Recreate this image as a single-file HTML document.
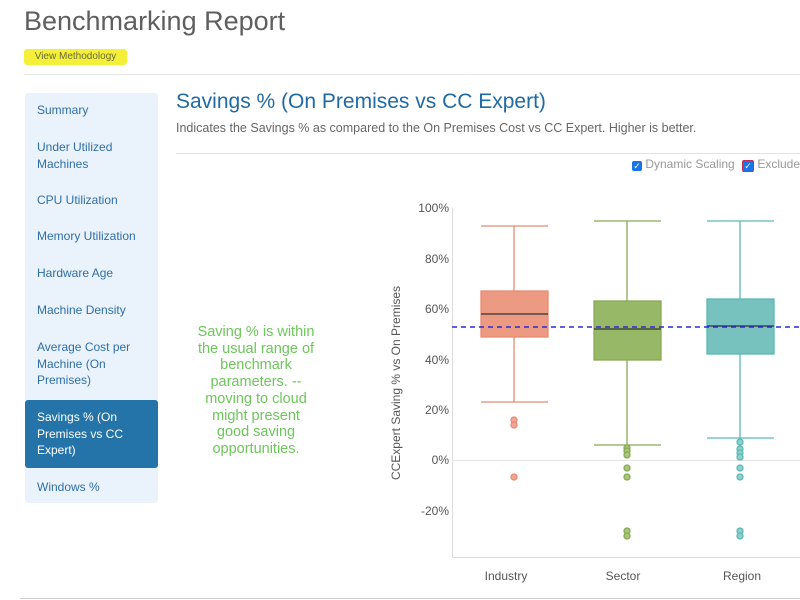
<!DOCTYPE html>
<html><head><style>
body{margin:0;width:800px;height:600px;overflow:hidden;background:#fff;font-family:"Liberation Sans",sans-serif;position:relative}
.a{position:absolute;white-space:nowrap}
.nav{position:absolute;left:25px;top:93px;width:133px;height:410px;background:#eaf3fc;border-radius:3px}
.it{position:absolute;left:12px;color:#2f6ea5;font-size:12px;line-height:16.7px}
</style></head><body>
<div class="a" style="left:24px;top:6px;font-size:27px;color:#5f5f5f">Benchmarking Report</div>
<div class="a" style="left:24px;top:49px;width:103px;height:16px;background:#f4f039;border-radius:3px;font-size:10px;color:#6a6a3a;line-height:16px;text-align:center">View Methodology</div>
<div class="a" style="left:24px;top:74px;width:776px;height:1px;background:#e6e6e6"></div>
<div class="nav">
<div class="it" style="top:9px">Summary</div>
<div class="it" style="top:46px">Under Utilized<br>Machines</div>
<div class="it" style="top:99px">CPU Utilization</div>
<div class="it" style="top:135px">Memory Utilization</div>
<div class="it" style="top:172px">Hardware Age</div>
<div class="it" style="top:209px">Machine Density</div>
<div class="it" style="top:246px">Average Cost per<br>Machine (On<br>Premises)</div>
<div style="position:absolute;left:0;top:307px;width:133px;height:68px;background:#2474aa;border-radius:3px"></div>
<div class="it" style="top:316px;color:#fff">Savings % (On<br>Premises vs CC<br>Expert)</div>
<div class="it" style="top:386px">Windows %</div>
</div>
<div class="a" style="left:176px;top:90px;font-size:21px;color:#1f6aa5">Savings % (On Premises vs CC Expert)</div>
<div class="a" style="left:176px;top:121px;font-size:12.5px;color:#666">Indicates the Savings % as compared to the On Premises Cost vs CC Expert. Higher is better.</div>
<div class="a" style="left:176px;top:153px;width:624px;height:1px;background:#e3e3e3"></div>
<div class="a" style="left:632px;top:157px;font-size:12px;color:#999"><span style="display:inline-block;width:10px;height:10px;background:#1a73e8;border-radius:2px;vertical-align:-1px;color:#fff;font-size:9px;line-height:10px;text-align:center">✓</span> Dynamic Scaling</div>
<div class="a" style="left:742px;top:157px;font-size:12px;color:#999"><span style="display:inline-block;width:10px;height:10px;background:#1a73e8;border:1px solid #c03050;border-radius:2px;vertical-align:-1px;color:#fff;font-size:9px;line-height:10px;text-align:center">✓</span> Exclude</div>
<div class="a" style="left:166px;top:324px;width:180px;text-align:center;font-size:14.5px;line-height:16.7px;color:#6cc65a">Saving % is within<br>the usual range of<br>benchmark<br>parameters. --<br>moving to cloud<br>might present<br>good saving<br>opportunities.</div>
<svg class="a" style="left:0;top:0" width="800" height="600" font-family="Liberation Sans,sans-serif">
<g font-size="12" fill="#555" text-anchor="end">
<text x="449" y="212">100%</text><text x="449" y="263">80%</text><text x="449" y="313">60%</text><text x="449" y="364">40%</text><text x="449" y="414">20%</text><text x="449" y="464">0%</text><text x="449" y="515">-20%</text>
</g>
<text transform="translate(400,383) rotate(-90)" font-size="12" fill="#555" text-anchor="middle">CCExpert Saving % vs On Premises</text>
<line x1="452.5" y1="208" x2="452.5" y2="557" stroke="#ddd"/>
<line x1="452" y1="557.5" x2="800" y2="557.5" stroke="#ddd"/>
<line x1="452" y1="460.5" x2="800" y2="460.5" stroke="#e6e6e6"/>
<g font-size="12" fill="#555" text-anchor="middle"><text x="506" y="580">Industry</text><text x="623" y="580">Sector</text><text x="742" y="580">Region</text></g>
<g stroke="#ea8a74" fill="none" stroke-width="1.3">
<line x1="514" y1="226" x2="514" y2="402"/><line x1="481" y1="226" x2="548" y2="226"/><line x1="481" y1="402" x2="548" y2="402"/>
<rect x="481" y="291" width="67" height="46" fill="#ec9a82"/>
<circle cx="514" cy="420" r="3" fill="#f0a896"/><circle cx="514" cy="425" r="3" fill="#f0a896"/><circle cx="514" cy="477" r="3" fill="#f0a896"/>
</g>
<line x1="481" y1="314" x2="548" y2="314" stroke="#333" stroke-width="1.3"/>
<g stroke="#88aa55" fill="none" stroke-width="1.3">
<line x1="627" y1="221" x2="627" y2="445"/><line x1="594" y1="221" x2="661" y2="221"/><line x1="594" y1="445" x2="661" y2="445"/>
<rect x="594" y="301" width="67" height="59" fill="#97b866"/>
<g fill="#a9c67e"><circle cx="627" cy="448" r="3"/><circle cx="627" cy="451" r="3"/><circle cx="627" cy="455" r="3"/><circle cx="627" cy="468" r="3"/><circle cx="627" cy="477" r="3"/><circle cx="627" cy="531" r="3"/><circle cx="627" cy="536" r="3"/></g>
</g>
<line x1="594" y1="329" x2="661" y2="329" stroke="#333" stroke-width="1.3"/>
<g stroke="#5bbab6" fill="none" stroke-width="1.3">
<line x1="740" y1="221" x2="740" y2="438"/><line x1="707" y1="221" x2="774" y2="221"/><line x1="707" y1="438" x2="774" y2="438"/>
<rect x="707" y="299" width="67" height="55" fill="#77c2be"/>
<g fill="#8fd0cc"><circle cx="740" cy="442" r="3"/><circle cx="740" cy="449" r="3"/><circle cx="740" cy="453" r="3"/><circle cx="740" cy="457" r="3"/><circle cx="740" cy="468" r="3"/><circle cx="740" cy="477" r="3"/><circle cx="740" cy="531" r="3"/><circle cx="740" cy="536" r="3"/></g>
</g>
<line x1="707" y1="326" x2="774" y2="326" stroke="#333" stroke-width="1.3"/>
<line x1="452" y1="327" x2="800" y2="327" stroke="#2a2ad8" stroke-width="1.6" stroke-dasharray="5,4"/>
</svg>
<div class="a" style="left:20px;top:598px;width:780px;height:1px;background:#ccc"></div>
</body></html>
